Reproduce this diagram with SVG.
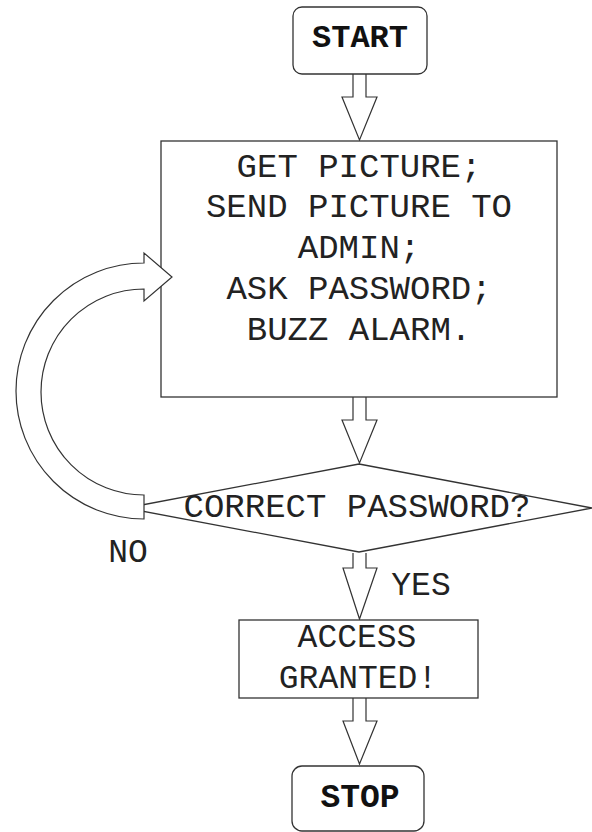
<svg xmlns="http://www.w3.org/2000/svg" width="592" height="832" viewBox="0 0 592 832">
<style>
.shape{fill:#fff;stroke:#333;stroke-width:1.3}
.arrow{fill:#fff;stroke:#333;stroke-width:1.2}
.t{font-family:"Liberation Mono","Courier New",monospace;font-size:34px;fill:#222;text-anchor:middle}
.s{font-size:33px}
.b{font-family:"Liberation Mono","Courier New",monospace;font-weight:bold;fill:#111;text-anchor:middle}
</style>
<rect width="592" height="832" fill="#fff"/>
<g id="connectors">
<path class="arrow" d="M353,74 L353,97 L342,97 L359.5,140 L377,97 L366,97 L366,74"/>
<path class="arrow" d="M353,397 L353,420 L342,420 L359.5,463 L377,420 L366,420 L366,397"/>
<path class="arrow" d="M353,553 L353,568 L343,568 L359.5,619 L377,568 L366,568 L366,553"/>
<path class="arrow" d="M353,698 L353,721 L343,721 L359.5,764 L377,721 L366,721 L366,698"/>
</g>
<g id="start">
<rect class="shape" x="293" y="7" width="134" height="67" rx="9"/>
<text class="b" x="360" y="47" font-size="32">START</text>
</g>
<g id="process">
<rect class="shape" x="161" y="141" width="396" height="256"/>
<text class="t" x="359" y="177">GET PICTURE;</text>
<text class="t" x="359" y="217">SEND PICTURE TO</text>
<text class="t" x="359" y="258">ADMIN;</text>
<text class="t" x="359" y="299">ASK PASSWORD;</text>
<text class="t" x="359" y="340">BUZZ ALARM.</text>
</g>
<g id="decision">
<polygon class="shape" points="359,464 592,508 359,552 126,508"/>
<text class="t" x="357" y="517">CORRECT PASSWORD?</text>
</g>
<g id="no-loop">
<path class="arrow" d="M144,263 L144,253 L172,277 L144,301 L144,289 A103,103 0 0 0 144,495 L144,519 A128,128 0 0 1 144,263 Z"/>
<text class="t s" x="128" y="562">NO</text>
</g>
<g id="yes-label">
<text class="t s" x="421" y="595">YES</text>
</g>
<g id="granted">
<rect class="shape" x="239" y="620" width="239" height="78"/>
<text class="t s" x="357" y="647">ACCESS</text>
<text class="t s" x="358" y="688">GRANTED!</text>
</g>
<g id="stop">
<rect class="shape" x="292" y="766" width="132" height="65" rx="10"/>
<text class="b" x="360" y="807" font-size="33">STOP</text>
</g>
</svg>
